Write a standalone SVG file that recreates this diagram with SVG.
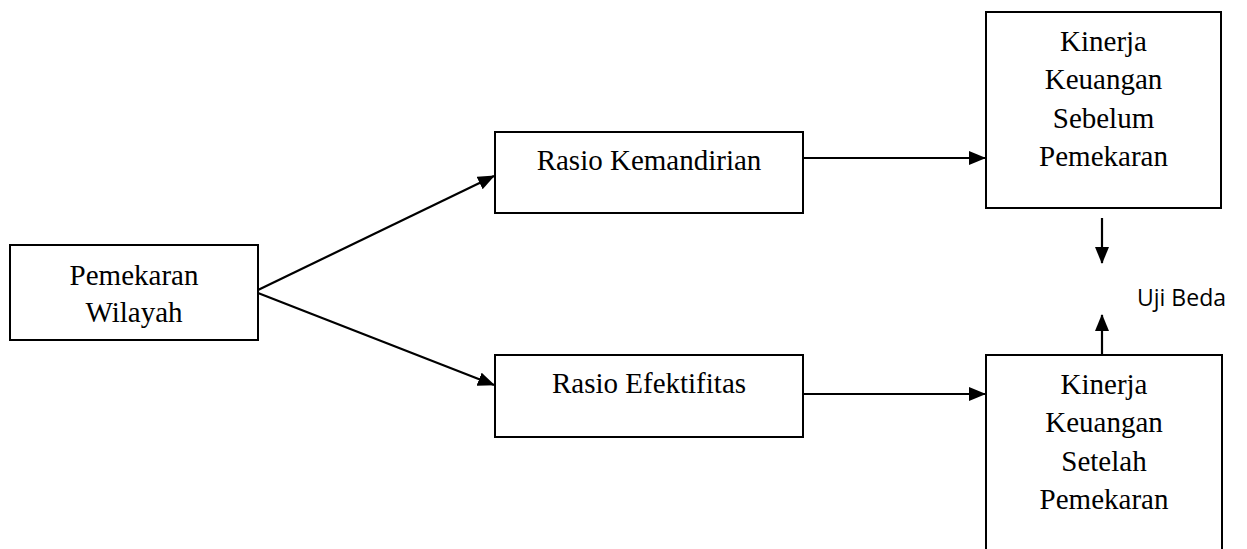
<svg xmlns="http://www.w3.org/2000/svg" width="1247" height="549" viewBox="0 0 1247 549">
<style>
.box{fill:#fff;stroke:#000;stroke-width:2}
.t{font-family:"Liberation Serif","Times New Roman",serif;font-size:29px;fill:#000;text-anchor:middle}
.s{font-family:"Open Sans","Liberation Sans",sans-serif;font-size:23px;fill:#000}
.c{stroke:#000;stroke-width:2.2;fill:none;marker-end:url(#ah)}
</style>
<defs>
<marker id="ah" markerWidth="17" markerHeight="14" refX="16" refY="7" orient="auto" markerUnits="userSpaceOnUse">
<path d="M0,0 L17,7 L0,14 Z" fill="#000"/>
</marker>
</defs>
<g id="connectors">
<line class="c" x1="258" y1="290" x2="494" y2="176"/>
<line class="c" x1="258" y1="293" x2="494" y2="385"/>
<line class="c" x1="803" y1="158" x2="985" y2="158"/>
<line class="c" x1="803" y1="394" x2="985" y2="394"/>
<line class="c" x1="1102" y1="218" x2="1102" y2="263"/>
<line class="c" x1="1102" y1="355" x2="1102" y2="315"/>
</g>
<g id="pemekaran">
<rect class="box" x="10" y="245" width="248" height="95"/>
<text class="t" x="134" y="285">Pemekaran</text>
<text class="t" x="134" y="322">Wilayah</text>
</g>
<g id="kemandirian">
<rect class="box" x="495" y="132" width="308" height="81"/>
<text class="t" x="649" y="170">Rasio Kemandirian</text>
</g>
<g id="efektifitas">
<rect class="box" x="495" y="355" width="308" height="82"/>
<text class="t" x="649" y="393">Rasio Efektifitas</text>
</g>
<g id="sebelum">
<rect class="box" x="986" y="12" width="235" height="196"/>
<text class="t" x="1103.5" y="51">Kinerja</text>
<text class="t" x="1103.5" y="89">Keuangan</text>
<text class="t" x="1103.5" y="128">Sebelum</text>
<text class="t" x="1103.5" y="166">Pemekaran</text>
</g>
<g id="setelah">
<rect class="box" x="986" y="355" width="236" height="200"/>
<text class="t" x="1104" y="394">Kinerja</text>
<text class="t" x="1104" y="432">Keuangan</text>
<text class="t" x="1104" y="471">Setelah</text>
<text class="t" x="1104" y="509">Pemekaran</text>
</g>
<g id="ujibeda">
<text class="s" x="1137" y="306">Uji Beda</text>
</g>
</svg>
